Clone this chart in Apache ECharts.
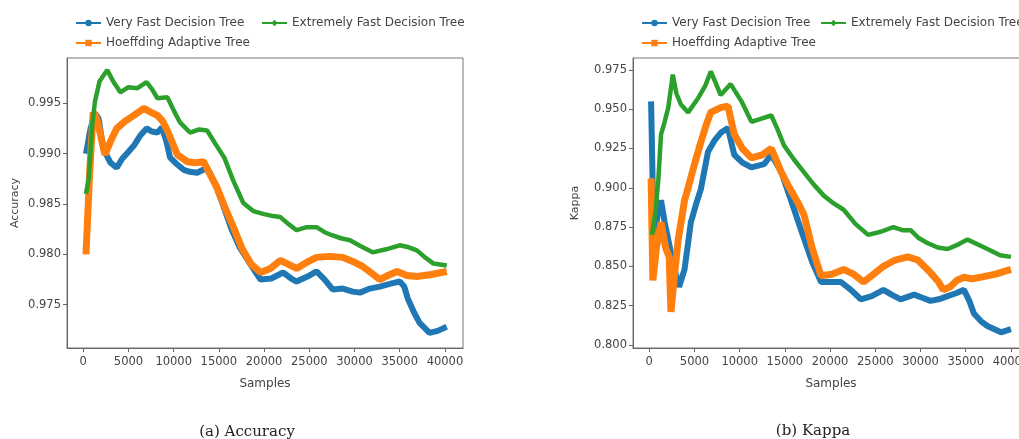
<!DOCTYPE html>
<html>
<head>
<meta charset="utf-8">
<script src="https://cdn.jsdelivr.net/npm/echarts@6/dist/echarts.min.js"></script>
<style>
html, body { margin: 0; padding: 0; background: #fff; }
#chart { width: 1019px; height: 439px; }
</style>
</head>
<body>
<div id="chart"></div>
<script>
// tick positions
const sampleTicks = [0, 5000, 10000, 15000, 20000, 25000, 30000, 35000, 40000];
const accTicks = [0.975, 0.980, 0.985, 0.990, 0.995];
const kappaTicks = [0.800, 0.825, 0.850, 0.875, 0.900, 0.925, 0.950, 0.975];

const names = ['Very Fast Decision Tree', 'Extremely Fast Decision Tree', 'Hoeffding Adaptive Tree'];

// (a) accuracy, [samples, value]
const accVfdt = [[300,0.9900],[800,0.9925],[1300,0.9940],[1700,0.9935],[2200,0.9905],[3000,0.9891],[3700,0.9886],[4300,0.9895],[5000,0.9902],[5600,0.9908],[6300,0.9918],[7000,0.9925],[7600,0.9922],[8200,0.9921],[8700,0.9926],[9200,0.9912],[9600,0.9896],[10300,0.9890],[11100,0.9884],[11800,0.9882],[12600,0.9881],[13700,0.9886],[14600,0.9870],[15500,0.9848],[16400,0.9825],[17300,0.9807],[18500,0.9790],[19600,0.9775],[20800,0.9776],[22100,0.9782],[23000,0.9776],[23600,0.9773],[24800,0.9778],[25800,0.9783],[26700,0.9775],[27600,0.9765],[28700,0.9766],[29800,0.9763],[30600,0.9762],[31700,0.9766],[32800,0.9768],[34000,0.9771],[35000,0.9773],[35500,0.9768],[35900,0.9756],[36600,0.9742],[37200,0.9732],[38300,0.9722],[39200,0.9724],[40200,0.9728]];
const accHat = [[300,0.9800],[700,0.9880],[1100,0.9941],[1500,0.9935],[2000,0.9915],[2400,0.9899],[3000,0.9912],[3700,0.9925],[4600,0.9932],[5600,0.9938],[6700,0.9945],[7500,0.9941],[8200,0.9938],[8800,0.9932],[9300,0.9923],[10400,0.9899],[11500,0.9892],[12400,0.9891],[13300,0.9892],[14000,0.9880],[14800,0.9866],[15700,0.9846],[16600,0.9827],[17600,0.9805],[18600,0.9790],[19600,0.9782],[20700,0.9786],[21800,0.9794],[22700,0.9790],[23600,0.9786],[24700,0.9792],[25800,0.9797],[27200,0.9798],[28700,0.9797],[29800,0.9793],[30900,0.9788],[31800,0.9782],[32800,0.9775],[33700,0.9779],[34700,0.9783],[35800,0.9779],[36900,0.9778],[38500,0.9780],[40200,0.9783]];
const accEfdt = [[300,0.9860],[600,0.9875],[1000,0.9930],[1300,0.9952],[1800,0.9972],[2650,0.9983],[3300,0.9972],[4100,0.9961],[5000,0.9966],[6000,0.9965],[7000,0.9971],[7600,0.9964],[8200,0.9955],[9300,0.9956],[10000,0.9943],[10700,0.9931],[11800,0.9921],[12800,0.9924],[13700,0.9923],[14600,0.9910],[15600,0.9896],[16600,0.9873],[17700,0.9851],[18800,0.9843],[20000,0.9840],[21000,0.9838],[21800,0.9837],[22700,0.9830],[23600,0.9824],[24700,0.9827],[25800,0.9827],[26700,0.9822],[27500,0.9819],[28500,0.9816],[29500,0.9814],[30700,0.9808],[32000,0.9802],[33500,0.9805],[35000,0.9809],[36000,0.9807],[36900,0.9804],[37800,0.9797],[38700,0.9791],[40200,0.9789]];

// (b) kappa, [samples, value]
const kapVfdt = [[200,0.955],[500,0.865],[900,0.882],[1300,0.892],[1700,0.878],[2100,0.867],[2700,0.850],[3300,0.837],[3900,0.848],[4600,0.878],[5200,0.890],[5700,0.899],[6500,0.923],[7200,0.930],[7900,0.935],[8700,0.938],[9400,0.921],[10300,0.916],[11300,0.913],[12700,0.915],[13500,0.921],[14600,0.910],[15800,0.890],[16800,0.873],[18000,0.853],[19000,0.840],[20100,0.840],[21200,0.840],[22300,0.835],[23400,0.829],[24600,0.831],[25900,0.835],[26800,0.832],[27800,0.829],[29300,0.832],[30200,0.830],[31100,0.828],[32000,0.829],[33000,0.831],[34000,0.833],[34800,0.835],[35400,0.828],[35900,0.820],[36700,0.815],[37400,0.812],[38900,0.808],[40000,0.810]];
const kapHat = [[200,0.906],[400,0.841],[800,0.862],[1300,0.878],[1800,0.862],[2200,0.856],[2400,0.821],[2800,0.845],[3200,0.867],[3900,0.892],[4300,0.900],[5000,0.915],[5700,0.929],[6300,0.940],[6800,0.948],[7900,0.951],[8700,0.952],[9400,0.934],[10300,0.925],[11300,0.919],[12500,0.921],[13500,0.925],[14600,0.910],[15500,0.900],[16400,0.891],[17100,0.883],[18000,0.862],[19000,0.844],[20200,0.845],[21500,0.848],[22600,0.845],[23700,0.840],[24800,0.845],[25900,0.850],[27200,0.854],[28600,0.856],[29700,0.854],[31100,0.846],[32000,0.840],[32500,0.835],[33300,0.837],[34000,0.841],[34800,0.843],[35700,0.842],[36600,0.843],[38300,0.845],[40000,0.848]];
const kapEfdt = [[300,0.870],[700,0.885],[1000,0.905],[1300,0.934],[1700,0.942],[2100,0.951],[2600,0.972],[3000,0.960],[3500,0.953],[4300,0.948],[5400,0.957],[6200,0.965],[6800,0.974],[7400,0.966],[7900,0.959],[9000,0.966],[10200,0.955],[11300,0.942],[12400,0.944],[13500,0.946],[14200,0.937],[14900,0.927],[16000,0.918],[17100,0.910],[18200,0.902],[19300,0.895],[20400,0.890],[21500,0.886],[22800,0.877],[24200,0.870],[25600,0.872],[27000,0.875],[28000,0.873],[28900,0.873],[29800,0.868],[30700,0.865],[31900,0.862],[33000,0.861],[34200,0.864],[35200,0.867],[36300,0.864],[37400,0.861],[38800,0.857],[40000,0.856]];

const colors = ['#1f77b4', '#2ca02c', '#ff7f0e'];
const axisColor = '#666';
const labelFont = { fontFamily: 'DejaVu Sans', fontSize: 11.5, color: '#444' };

function xAxisOf(idx) {
    return {
        type: 'value', gridIndex: idx, min: -1800, max: 42000,
        name: 'Samples', nameLocation: 'middle', nameGap: 30,
        nameTextStyle: { fontFamily: 'DejaVu Sans', fontSize: 12, color: '#444' },
        splitLine: { show: false },
        axisLine: { onZero: false, lineStyle: { color: axisColor } },
        axisTick: { length: 4, lineStyle: { color: axisColor }, customValues: sampleTicks },
        axisLabel: Object.assign({ margin: 8, customValues: sampleTicks, formatter: v => String(v) }, labelFont)
    };
}

function yAxisOf(idx, name, min, max, ticks, gap) {
    return {
        type: 'value', gridIndex: idx, min: min, max: max,
        name: name, nameLocation: 'middle', nameGap: gap,
        nameTextStyle: { fontFamily: 'DejaVu Sans', fontSize: 11, color: '#444' },
        splitLine: { show: false },
        axisLine: { show: true, onZero: false, lineStyle: { color: axisColor } },
        axisTick: { show: true, length: 4, lineStyle: { color: axisColor }, customValues: ticks },
        axisLabel: Object.assign({ margin: 6, customValues: ticks, formatter: v => v.toFixed(3) }, labelFont)
    };
}

function lineOf(name, idx, data, color, width, symbol) {
    return {
        name: name, type: 'line', xAxisIndex: idx, yAxisIndex: idx,
        data: data, symbol: symbol, symbolSize: 7, showSymbol: false,
        lineStyle: { color: color, width: width },
        itemStyle: { color: color },
        emphasis: { disabled: true }
    };
}

// one legend per entry so nothing wraps at the page edge
function legendOf(left, top, name) {
    return {
        left: left, top: top, data: [name], itemWidth: 25, itemHeight: 8,
        selectedMode: false,
        textStyle: { fontFamily: 'DejaVu Sans', fontSize: 12, color: '#444' }
    };
}

let myChart = echarts.init(document.getElementById('chart'));
myChart.setOption({
    animation: false,
    legend: [
        legendOf(70, 12, names[0]),
        legendOf(256, 12, names[1]),
        legendOf(70, 32, names[2]),
        legendOf(636, 12, names[0]),
        legendOf(815, 12, names[1]),
        legendOf(636, 32, names[2])
    ],
    grid: [
        { left: 67, top: 58, width: 396, height: 290, outerBoundsMode: 'none', show: true, borderColor: '#777', borderWidth: 1 },
        { left: 633, top: 58, width: 396, height: 290, outerBoundsMode: 'none', show: true, borderColor: '#777', borderWidth: 1 }
    ],
    xAxis: [xAxisOf(0), xAxisOf(1)],
    yAxis: [
        yAxisOf(0, 'Accuracy', 0.9707, 0.9995, accTicks, 46),
        yAxisOf(1, 'Kappa', 0.798, 0.9826, kappaTicks, 52)
    ],
    series: [
        lineOf(names[0], 0, accVfdt, colors[0], 6, 'circle'),
        lineOf(names[2], 0, accHat, colors[2], 7, 'rect'),
        lineOf(names[1], 0, accEfdt, colors[1], 4.5, 'diamond'),
        lineOf(names[0], 1, kapVfdt, colors[0], 6, 'circle'),
        lineOf(names[2], 1, kapHat, colors[2], 7, 'rect'),
        lineOf(names[1], 1, kapEfdt, colors[1], 4.5, 'diamond')
    ],
    graphic: [
        { type: 'text', x: 247, y: 432, style: { text: '(a) Accuracy', align: 'center', verticalAlign: 'middle', font: '15px "DejaVu Serif"', fill: '#222' } },
        { type: 'text', x: 813, y: 431, style: { text: '(b) Kappa', align: 'center', verticalAlign: 'middle', font: '15px "DejaVu Serif"', fill: '#222' } }
    ]
});
window.addEventListener('resize', function () {
    myChart.resize();
});
</script>
</body>
</html>
